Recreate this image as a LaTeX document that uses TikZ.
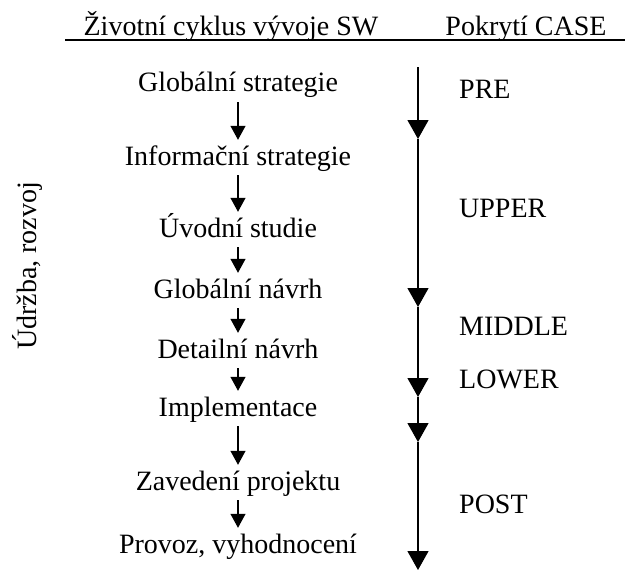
\documentclass[tikz,border=0pt]{standalone}
\usepackage{fontspec}
\setmainfont{Liberation Serif}
\usetikzlibrary{arrows.meta,positioning}

\begin{document}
\begin{tikzpicture}[x=1pt,y=-1pt,
    every node/.style={font=\fontsize{28}{32}\selectfont,inner sep=0pt},
    phase/.style={anchor=base,text height=20pt,text depth=6pt},
    case/.style={anchor=base west},
    flow/.style={-{Triangle[width=15pt,length=14pt]},line width=1.2pt,shorten <=4pt,shorten >=5pt},
    cover/.style={-{Triangle[width=21pt,length=19pt]},line width=1.3pt}]
        \useasboundingbox (0,0) rectangle (625,570);

        \node[anchor=base](H1) at (231,35) {Životní cyklus vývoje SW};
        \node[anchor=base](H2) at (526,35) {Pokrytí CASE};
        \coordinate (U1) at (65,40);
        \coordinate (U2) at (625,40);
        \draw[line width=1.3pt] (U1) -- (U2);

        \node[rotate=90](UR) at (27,266) {Údržba, rozvoj};

        \node[phase](GS) at (238,92) {Globální strategie};
        \node[phase](IS) at (238,165) {Informační strategie};
        \node[phase](US) at (238,237) {Úvodní studie};
        \node[phase](GN) at (238,298) {Globální návrh};
        \node[phase](DN) at (238,358) {Detailní návrh};
        \node[phase](IM) at (238,416) {Implementace};
        \node[phase](ZP) at (238,490) {Zavedení projektu};
        \node[phase](PV) at (238,553) {Provoz, vyhodnocení};

        \node[case](PRE) at (459,98) {PRE};
        \node[case](UPP) at (459,217) {UPPER};
        \node[case](MID) at (459,335) {MIDDLE};
        \node[case](LOW) at (459,388) {LOWER};
        \node[case](PST) at (459,513) {POST};

        \coordinate (C0) at (418,67);
        \coordinate (C1) at (418,139);
        \coordinate (C2) at (418,307);
        \coordinate (C3) at (418,397);
        \coordinate (C4) at (418,442);
        \coordinate (C5) at (418,570);

        \begin{scope}
          \draw
          (GS) edge[flow] (IS)
          (IS) edge[flow] (US)
          (US) edge[flow] (GN)
          (GN) edge[flow] (DN)
          (DN) edge[flow] (IM)
          (IM) edge[flow] (ZP)
          (ZP) edge[flow] (PV);
          \draw
          (C0) edge[cover] (C1)
          (C1) edge[cover] (C2)
          (C2) edge[cover] (C3)
          (C3) edge[cover] (C4)
          (C4) edge[cover] (C5);
        \end{scope}
      \end{tikzpicture}
\end{document}
